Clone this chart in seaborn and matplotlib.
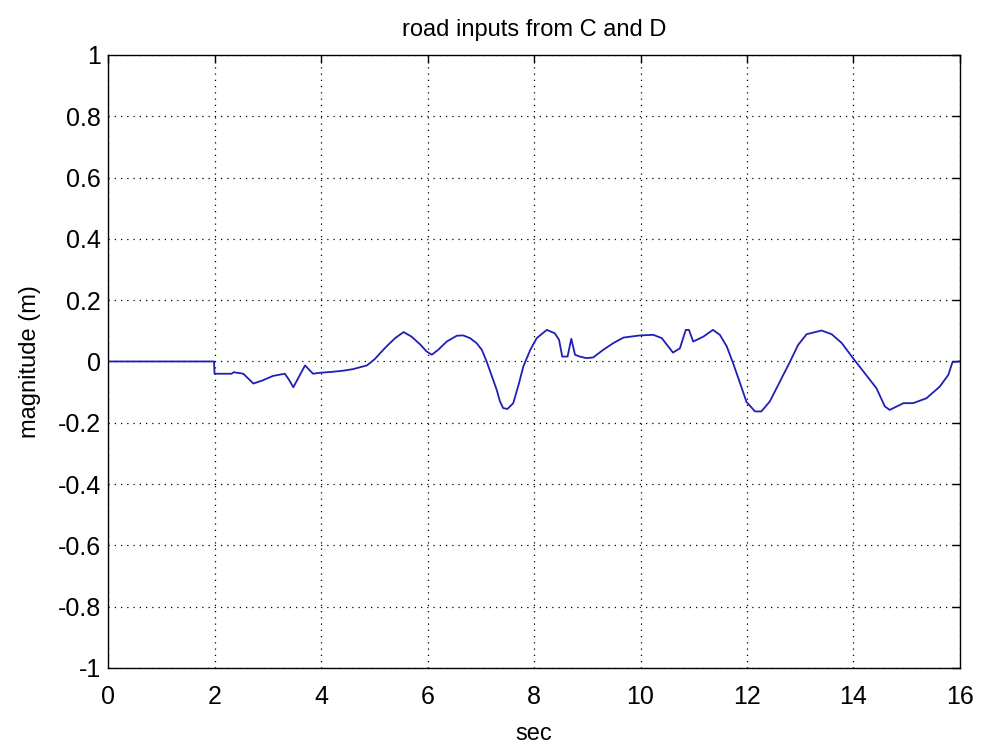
import matplotlib
matplotlib.use("Agg")
import matplotlib.pyplot as plt
import seaborn as sns
import pandas as pd

# road input profile (time in seconds, vertical magnitude in metres)
t_sec = [0.0, 1.99, 2.0, 2.32, 2.36, 2.54, 2.73, 2.90, 3.10, 3.32, 3.40, 3.48,
         3.60, 3.70, 3.85, 3.97, 4.20, 4.42, 4.60, 4.75, 4.86, 4.92,
         5.01, 5.11, 5.23, 5.39, 5.55, 5.70, 5.86, 5.98, 6.08, 6.20, 6.36,
         6.55, 6.67, 6.80, 6.92, 7.02, 7.11, 7.20, 7.30, 7.36, 7.42, 7.50,
         7.61, 7.71, 7.80, 7.93, 8.05, 8.24, 8.39, 8.47, 8.53, 8.63, 8.70,
         8.77, 8.86, 8.98, 9.11, 9.30, 9.49, 9.68, 9.99, 10.24, 10.40, 10.52,
         10.61, 10.74, 10.85, 10.91, 10.99, 11.18, 11.36, 11.49, 11.62, 11.74,
         11.87, 11.99, 12.15, 12.27, 12.43, 12.62, 12.81, 12.96, 13.12, 13.40,
         13.59, 13.78, 13.99, 14.21, 14.43, 14.59, 14.68, 14.81, 14.94, 15.12,
         15.37, 15.62, 15.78, 15.86, 16.0]
magnitude = [0.0, 0.0, -0.04, -0.04, -0.035, -0.04, -0.072, -0.062, -0.047, -0.04,
             -0.06, -0.084, -0.045, -0.013, -0.04, -0.037, -0.034, -0.03, -0.025,
             -0.018, -0.013, -0.005,
             0.008, 0.027, 0.049, 0.076, 0.096, 0.081, 0.056, 0.033, 0.022,
             0.038, 0.065, 0.084, 0.085, 0.076, 0.060, 0.038, 0.0, -0.044,
             -0.093, -0.13, -0.152, -0.155, -0.136, -0.076, -0.016, 0.038,
             0.076, 0.103, 0.092, 0.071, 0.016, 0.016, 0.074, 0.022, 0.016,
             0.011, 0.013, 0.038, 0.060, 0.078, 0.085, 0.087, 0.076, 0.049,
             0.029, 0.043, 0.103, 0.103, 0.065, 0.081, 0.103, 0.087, 0.049,
             -0.006, -0.071, -0.132, -0.163, -0.163, -0.13, -0.065, 0.0, 0.054,
             0.089, 0.101, 0.089, 0.060, 0.011, -0.038, -0.087, -0.147, -0.158,
             -0.147, -0.136, -0.136, -0.12, -0.082, -0.044, -0.002, 0.0]

x_ticks = [0, 2, 4, 6, 8, 10, 12, 14, 16]
y_ticks = [-1, -0.8, -0.6, -0.4, -0.2, 0, 0.2, 0.4, 0.6, 0.8, 1]
y_labels = ["-1", "-0.8", "-0.6", "-0.4", "-0.2", "0", "0.2", "0.4", "0.6", "0.8", "1"]

sns.set_theme(style="white")
plt.rcParams["font.family"] = ["Liberation Sans", "DejaVu Sans"]
plt.rcParams["text.color"] = "black"
plt.rcParams["axes.labelcolor"] = "black"

df = pd.DataFrame({"sec": t_sec, "magnitude": magnitude})

fig = plt.figure(figsize=(9.84, 7.46), dpi=100)
ax = fig.add_axes([0.1098, 0.1046, 0.8658, 0.8217])

sns.lineplot(data=df, x="sec", y="magnitude", ax=ax, estimator=None, sort=False,
             color="#1f1fb4", linewidth=1.3)

ax.set_xlim(0, 16)
ax.set_ylim(-1, 1)
ax.set_xticks(x_ticks)
ax.set_xticklabels([str(v) for v in x_ticks])
ax.set_yticks(y_ticks)
ax.set_yticklabels(y_labels)
ax.grid(True, color="black", linestyle=(0, (1, 4)), linewidth=0.9)
ax.tick_params(direction="in", length=6, width=1, colors="black",
               labelsize=18, top=True, right=True, pad=5)
ax.tick_params(axis="x", pad=12)
for s in ax.spines.values():
    s.set_color("black")
    s.set_linewidth(1.0)

ax.set_title("road inputs from C and D", fontsize=17, pad=14, color="black")
ax.set_xlabel("sec", fontsize=17, labelpad=10)
ax.set_ylabel("magnitude (m)", fontsize=17, labelpad=12)

fig.savefig("out.png", dpi=100, facecolor="white")
